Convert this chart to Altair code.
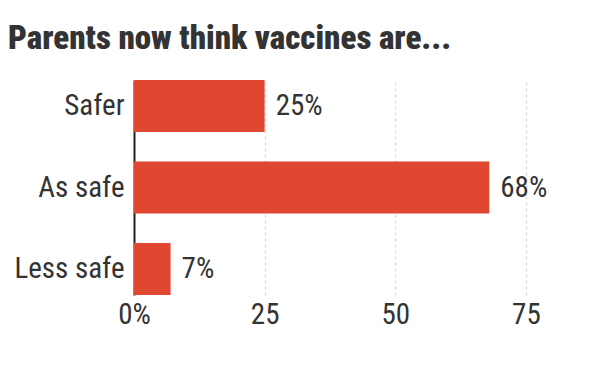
import altair as alt
import pandas as pd

categories = ["Safer", "As safe", "Less safe"]
values = [25, 68, 7]
x_ticks = [0, 25, 50, 75]
title_text = "Parents now think vaccines are..."

df = pd.DataFrame({
    "answer": categories,
    "pct": values,
    "label": [f"{v}%" for v in values],
})

FONT = "Liberation Sans Narrow, Roboto Condensed, Roboto, sans-serif"
TEXT_COLOR = "#333333"
BAR_COLOR = "#df4731"

y_enc = alt.Y(
    "answer:N",
    sort=categories,
    title=None,
    scale=alt.Scale(paddingInner=0.36, paddingOuter=0.0),
    axis=alt.Axis(
        domain=True, domainColor="#222222", domainWidth=2,
        ticks=False, grid=False,
        labelFontSize=29, labelColor=TEXT_COLOR, labelFont=FONT,
        labelPadding=10,
    ),
)
x_enc = alt.X(
    "pct:Q",
    title=None,
    scale=alt.Scale(domain=[0, 80], nice=False),
    axis=alt.Axis(
        values=x_ticks, domain=False, ticks=False,
        grid=True, gridDash=[3, 3], gridColor="#dddddd", gridWidth=1.5,
        labelExpr="datum.value == 0 ? '0%' : datum.label",
        labelFontSize=29, labelColor=TEXT_COLOR, labelFont=FONT,
        labelPadding=5, labelFlush=False,
    ),
)

base = alt.Chart(df)
bars = base.mark_bar(color=BAR_COLOR).encode(x=x_enc, y=y_enc)
text = base.mark_text(
    align="left", baseline="middle", dx=11, fontSize=29, font=FONT, color=TEXT_COLOR
).encode(
    x=alt.X("pct:Q"),
    y=alt.Y("answer:N", sort=categories),
    text="label:N",
)

chart = (bars + text).properties(
    width=418,
    height=215,
    autosize="none",
    padding={"left": 126, "top": 72, "right": 0, "bottom": 60},
    title=alt.TitleParams(
        title_text, anchor="start", frame="group", dx=-126,
        fontSize=33, font=FONT, fontWeight=900, color=TEXT_COLOR, offset=24,
    ),
).configure_view(stroke=None)

chart.save("out.html", embed_options={"renderer": "svg", "actions": False})
